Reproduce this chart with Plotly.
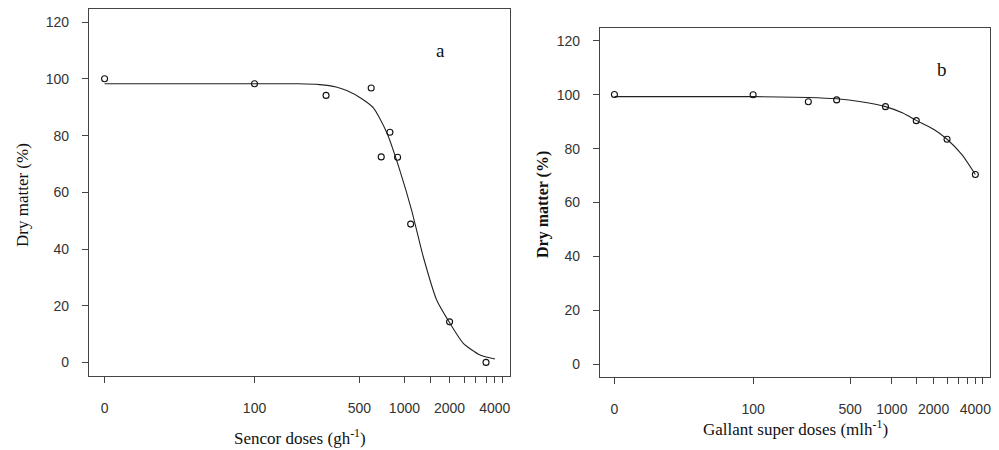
import plotly.graph_objects as go

# ---------------- data ----------------
ZERO_POS = 10  # position at which the 0 dose is drawn on the log axis

# Panel a: Sencor
sencor_dose = [0, 100, 300, 600, 700, 800, 900, 1100, 2000, 3500]
sencor_dm = [100.1, 98.3, 94.2, 96.8, 72.5, 81.2, 72.4, 48.8, 14.3, 0.0]
sencor_curve_dose = [0, 100, 196, 272, 350, 412, 510, 621, 763, 935, 1119, 1338, 1643, 2016, 2470, 3193, 4017]
sencor_curve_dm = [98.3, 98.3, 98.3, 98.0, 97.2, 95.9, 93.3, 89.8, 81.0, 67.5, 53.5, 37.1, 21.9, 13.7, 6.7, 2.6, 1.2]

# Panel b: Gallant super
gallant_dose = [0, 100, 250, 400, 900, 1500, 2500, 4000]
gallant_dm = [100.1, 100.0, 97.4, 98.1, 95.6, 90.4, 83.5, 70.4]
gallant_curve_dose = [0, 100, 250, 400, 600, 900, 1200, 1500, 2000, 2500, 3200, 4000]
gallant_curve_dm = [99.3, 99.3, 99.0, 98.5, 97.4, 95.6, 93.2, 90.5, 87.2, 83.5, 77.8, 70.4]

# tick labels
x_tickvals = [0, 100, 500, 1000, 1500, 2000, 2500, 3000, 3500, 4000, 4500]
x_ticktext = ["0", "100", "500", "1000", "", "2000", "", "", "", "4000", ""]
y_tickvals = [0, 20, 40, 60, 80, 100, 120]
y_ticktext = ["0", "20", "40", "60", "80", "100", "120"]


def pos(d):
    return [v if v > 0 else ZERO_POS for v in d]


# page has an 8px body margin -> figure is drawn offset by 8px
OFF = 8
W, H = 983, 442


def px(x):
    return min(1.0, max(0.0, (x - OFF) / W))


def py(y):
    return min(1.0, max(0.0, 1 - (y - OFF) / H))


fig = go.Figure()

line_style = dict(color="#222", width=1.1, shape="spline", smoothing=0.6)
marker_style = dict(symbol="circle-open", size=6, color="#111", line=dict(width=1.1, color="#111"))

fig.add_trace(go.Scatter(x=pos(sencor_curve_dose), y=sencor_curve_dm, mode="lines",
                         line=line_style, xaxis="x", yaxis="y", showlegend=False, hoverinfo="skip"))
fig.add_trace(go.Scatter(x=pos(sencor_dose), y=sencor_dm, mode="markers",
                         marker=marker_style, xaxis="x", yaxis="y", showlegend=False))
fig.add_trace(go.Scatter(x=pos(gallant_curve_dose), y=gallant_curve_dm, mode="lines",
                         line=line_style, xaxis="x2", yaxis="y2", showlegend=False, hoverinfo="skip"))
fig.add_trace(go.Scatter(x=pos(gallant_dose), y=gallant_dm, mode="markers",
                         marker=marker_style, xaxis="x2", yaxis="y2", showlegend=False))

frame_col = "#444"
tick_font = dict(family="Liberation Sans, Arial, sans-serif", size=14, color="#333")

xaxis_common = dict(type="log", range=[0.896, 3.704], tickvals=pos(x_tickvals), ticktext=x_ticktext,
                     ticks="outside", ticklen=6, tickcolor=frame_col, tickwidth=1,
                     showline=True, linecolor=frame_col, linewidth=1.2, mirror=True,
                     showgrid=False, zeroline=False, tickfont=tick_font, ticklabelstandoff=13,
                     ticklabeloverflow="allow", automargin=False)
yaxis_common = dict(range=[-4.8, 124.8], tickvals=y_tickvals, ticktext=y_ticktext,
                    ticks="outside", ticklen=6, tickcolor=frame_col, tickwidth=1,
                    showline=True, linecolor=frame_col, linewidth=1.2, mirror=True,
                    showgrid=False, zeroline=False, tickfont=tick_font, ticklabelstandoff=10,
                    automargin=False)

fig.update_layout(
    width=W, height=H,
    margin=dict(l=0, r=0, t=0, b=0),
    paper_bgcolor="white", plot_bgcolor="white",
    xaxis=dict(domain=[px(89), px(510)], anchor="y", **xaxis_common),
    yaxis=dict(domain=[py(376), py(8.7)], anchor="x", **yaxis_common),
    xaxis2=dict(domain=[px(600), px(989.5)], anchor="y2", **xaxis_common),
    yaxis2=dict(domain=[py(377), py(28)], anchor="x2", **yaxis_common),
)

serif = "Liberation Serif, Times New Roman, serif"
ann = [
    dict(text="Sencor doses (gh<sup>-1</sup>)", x=px(300), y=py(437), size=17),
    dict(text="Gallant super doses (mlh<sup>-1</sup>)", x=px(795), y=py(428), size=17),
    dict(text="a", x=px(440), y=py(50), size=19),
    dict(text="b", x=px(942), y=py(70), size=19),
]
for a in ann:
    fig.add_annotation(text=a["text"], x=a["x"], y=a["y"], xref="paper", yref="paper",
                       xanchor="center", yanchor="middle", showarrow=False,
                       font=dict(family=serif, size=a["size"], color="#111"))

fig.add_annotation(text="Dry matter (%)", x=px(22), y=py(195), xref="paper", yref="paper",
                   textangle=-90, showarrow=False, xanchor="center", yanchor="middle",
                   font=dict(family=serif, size=17, color="#111"))
fig.add_annotation(text="<b>Dry matter (%)</b>", x=px(543), y=py(205), xref="paper", yref="paper",
                   textangle=-90, showarrow=False, xanchor="center", yanchor="middle",
                   font=dict(family=serif, size=16, color="#111"))

fig.write_html("out.html")
